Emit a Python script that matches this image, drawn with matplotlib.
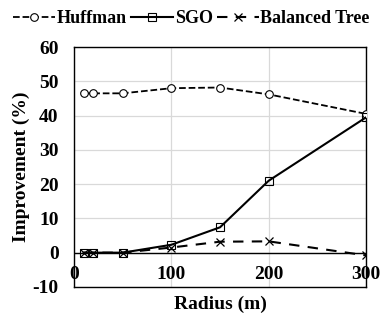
import matplotlib.pyplot as plt

radius = [10, 20, 50, 100, 150, 200, 300]
huffman = [46.5, 46.5, 46.5, 48.0, 48.2, 46.2, 40.5]
sgo = [0.0, 0.0, 0.0, 2.3, 7.4, 21.0, 39.5]
balanced = [0.0, 0.0, 0.0, 1.5, 3.2, 3.3, -0.8]
xticks = [0, 100, 200, 300]
yticks = [-10, 0, 10, 20, 30, 40, 50, 60]

plt.rcParams['font.family'] = ['Liberation Serif', 'DejaVu Serif']
plt.rcParams['font.weight'] = 'bold'
plt.rcParams['axes.unicode_minus'] = False

fig = plt.figure(figsize=(3.87, 3.16), dpi=100)
ax = fig.add_axes([0.191, 0.092, 0.755, 0.759])

ax.plot(radius, huffman, color='black', ls='--', lw=1.3, marker='o', ms=5.5,
        mfc='white', mec='black', mew=0.8, label='Huffman', zorder=3)
ax.plot(radius, sgo, color='black', ls='-', lw=1.5, marker='s', ms=5.5,
        mfc='none', mec='black', mew=0.8, label='SGO', zorder=3)
ax.plot(radius, balanced, color='black', ls=(0, (5, 4)), lw=1.5, marker='x', ms=6,
        mec='black', mew=0.9, label='Balanced Tree', zorder=3)

ax.set_xlim(0, 300)
ax.set_ylim(-10, 60)
ax.set_xticks(xticks)
ax.set_yticks(yticks)
ax.grid(True, color='#d9d9d9', lw=0.9)
ax.set_axisbelow(True)
ax.axhline(0, color='black', lw=1.0, zorder=2)
ax.tick_params(length=0, labelsize=14)
ax.tick_params(axis='y', pad=11)
ax.set_xticklabels([])
for t in xticks:
    ax.text(t, -6.3, str(t), ha='center', va='center', fontsize=14, fontweight='bold')
for s in ax.spines.values():
    s.set_linewidth(1.0)

ax.set_xlabel('Radius (m)', fontsize=14, fontweight='bold', labelpad=3)
ax.set_ylabel('Improvement (%)', fontsize=14, fontweight='bold', labelpad=2)

fig.legend(loc='upper center', bbox_to_anchor=(0.495, 1.02), ncol=3, frameon=False,
           handlelength=2.3, handletextpad=0.1, columnspacing=0.25,
           prop={'weight': 'bold', 'size': 13})

fig.savefig('out.png', dpi=100)
